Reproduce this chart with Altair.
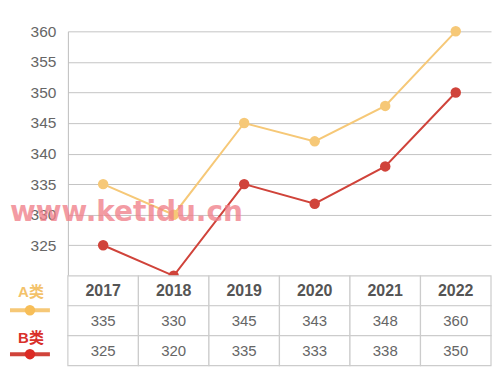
import altair as alt
import pandas as pd

years = ["2017", "2018", "2019", "2020", "2021", "2022"]
series_names = ["A类", "B类"]
a_plot = [335, 330, 345, 342, 347.8, 360]
b_plot = [325, 320, 335, 331.8, 337.9, 350]
a_table = [335, 330, 345, 343, 348, 360]
b_table = [325, 320, 335, 333, 338, 350]
y_ticks = [325, 330, 335, 340, 345, 350, 355, 360]
watermark = "www.ketidu.cn"

line_colors = ["#F6C877", "#D0433A"]
point_colors = ["#F7BE58", "#DC2A24"]
label_colors = ["#F3C26A", "#D9302A"]

FONT = "Liberation Sans, Helvetica, Arial, Noto Sans CJK SC"

df_lines = pd.DataFrame({
    "year": years * 2,
    "value": a_plot + b_plot,
    "series": [series_names[0]] * 6 + [series_names[1]] * 6,
})

xband = alt.Scale(type="band", domain=years, paddingInner=0, paddingOuter=0)
color_line = alt.Color("series:N", scale=alt.Scale(domain=series_names, range=line_colors), legend=None)
color_pt = alt.Color("series:N", scale=alt.Scale(domain=series_names, range=point_colors), legend=None)

yenc = alt.Y("value:Q", scale=alt.Scale(domain=[320, 360], nice=False, zero=False),
             axis=alt.Axis(values=y_ticks, title=None, ticks=False, domain=True,
                           domainColor="#bdbdbd", gridColor="#c4c4c4", grid=True,
                           labelFont=FONT, labelFontSize=15.5, labelColor="#666666",
                           labelPadding=12))
base = alt.Chart(df_lines).encode(x=alt.X("year:N", scale=xband, axis=None), y=yenc)
lines = base.mark_line(strokeWidth=2).encode(color=color_line)
points = base.mark_circle(size=110, opacity=1).encode(color=color_pt)

wm = alt.Chart(pd.DataFrame({"t": [watermark]})).mark_text(
    align="left", baseline="middle", font="DejaVu Sans", fontWeight="bold",
    fontSize=28, color="#F07F8A", opacity=0.78
).encode(text="t:N", x=alt.value(-58), y=alt.value(182))

top = alt.layer(lines, points, wm).properties(width=424, height=245)

# table
rows = ["h", "A", "B"]
df_tab = pd.DataFrame({
    "year": years * 3,
    "row": ["h"] * 6 + ["A"] * 6 + ["B"] * 6,
    "txt": years + [str(v) for v in a_table] + [str(v) for v in b_table],
})
yrow = alt.Y("row:N", sort=rows, scale=alt.Scale(domain=rows, paddingInner=0, paddingOuter=0), axis=None)
xt = alt.X("year:N", scale=xband, axis=None)
tb = alt.Chart(df_tab).encode(x=xt, y=yrow)
cells = tb.mark_rect(fill="white", stroke="#cccccc", strokeWidth=1.2)
head = tb.transform_filter("datum.row == 'h'").mark_text(
    font=FONT, fontSize=16, fontWeight="bold", color="#555555").encode(text="txt:N")
vals = tb.transform_filter("datum.row != 'h'").mark_text(
    font=FONT, fontSize=15, color="#666666").encode(text="txt:N")

one = pd.DataFrame({"k": [0]})
leg_layers = []
for name, lc, pc, tc, ty, sy in [
    (series_names[0], line_colors[0], point_colors[0], label_colors[0], 16, 34.5),
    (series_names[1], line_colors[1], point_colors[1], label_colors[1], 62, 78.5),
]:
    leg_layers.append(alt.Chart(pd.DataFrame({"t": [name]})).mark_text(
        font=FONT, fontSize=15, fontWeight="bold", color=tc, baseline="middle"
    ).encode(text="t:N", x=alt.value(-37), y=alt.value(ty)))
    leg_layers.append(alt.Chart(one).mark_rule(strokeWidth=4, color=lc).encode(
        x=alt.value(-58), x2=alt.value(-18), y=alt.value(sy)))
    leg_layers.append(alt.Chart(one).mark_circle(size=110, opacity=1, color=pc).encode(
        x=alt.value(-38), y=alt.value(sy)))

bottom = alt.layer(cells, head, vals, *leg_layers).properties(width=424, height=90)

chart = alt.vconcat(top, bottom, spacing=0, bounds="flush").properties(
    padding={"left": 0, "top": 16, "right": 0, "bottom": 0}
).configure_view(stroke=None)

chart.save("out.html", embed_options={"renderer": "svg", "actions": False})
